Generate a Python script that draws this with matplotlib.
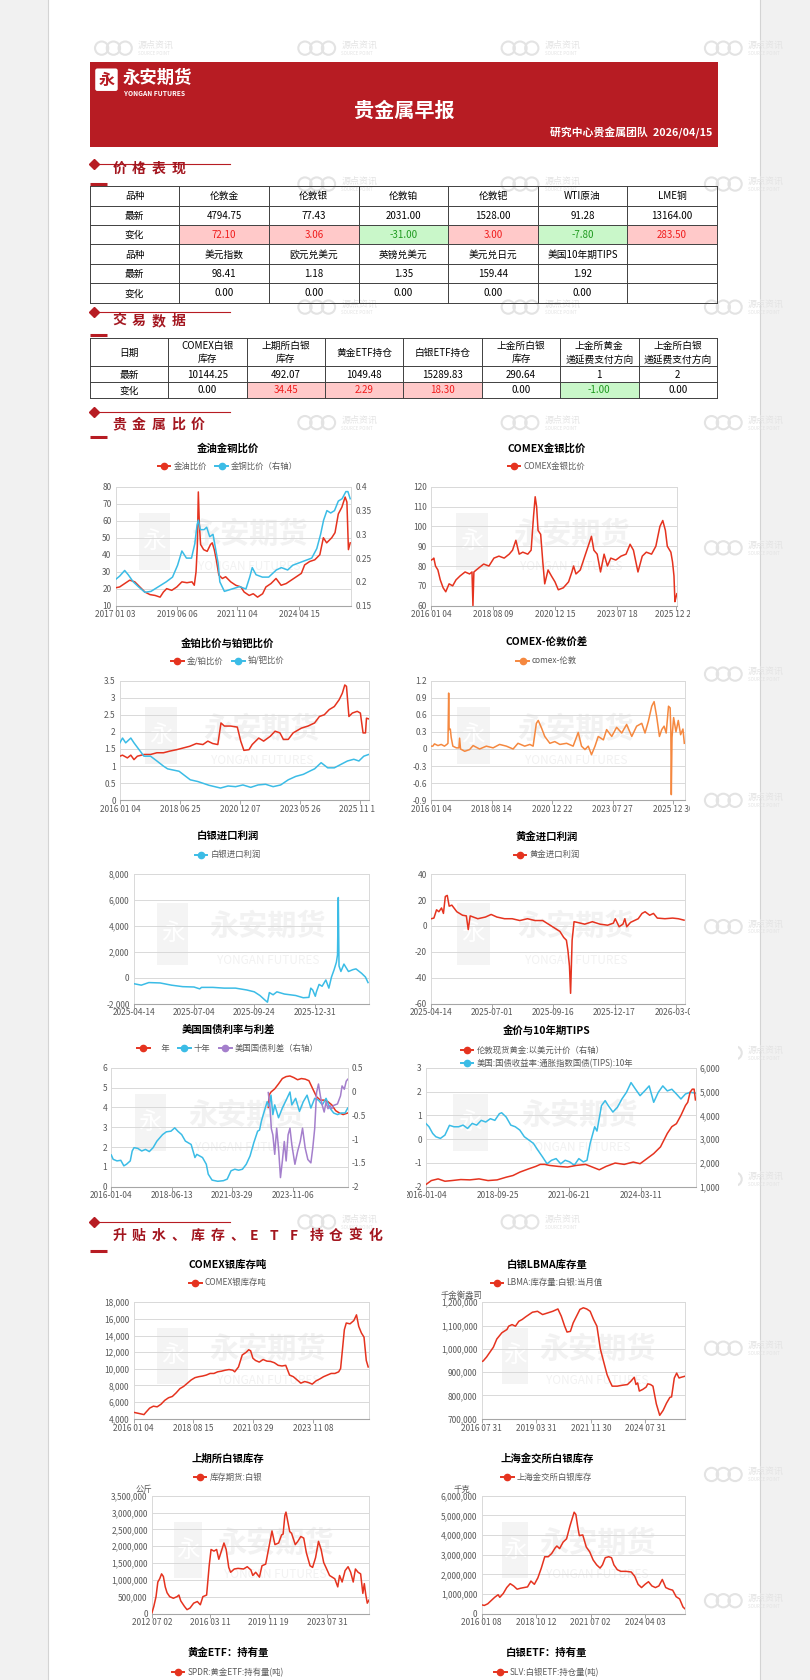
import matplotlib
matplotlib.use("Agg")
import matplotlib.pyplot as plt
from matplotlib.patches import Rectangle, Circle, FancyBboxPatch
from matplotlib.lines import Line2D
from matplotlib.transforms import Bbox, TransformedBbox, blended_transform_factory
import numpy as np

plt.rcParams['font.family'] = ['Noto Sans CJK SC', 'DejaVu Sans']
plt.rcParams['axes.unicode_minus'] = False

# ============================ DATA ============================
report_title = '贵金属早报'
report_sub = '研究中心贵金属团队  2026/04/15'

t1_rows = [
    ['品种', '伦敦金', '伦敦银', '伦敦铂', '伦敦钯', 'WTI原油', 'LME铜'],
    ['最新', '4794.75', '77.43', '2031.00', '1528.00', '91.28', '13164.00'],
    ['变化', '72.10', '3.06', '-31.00', '3.00', '-7.80', '283.50'],
    ['品种', '美元指数', '欧元兑美元', '英镑兑美元', '美元兑日元', '美国10年期TIPS', ''],
    ['最新', '98.41', '1.18', '1.35', '159.44', '1.92', ''],
    ['变化', '0.00', '0.00', '0.00', '0.00', '0.00', ''],
]
t2_rows = [
    ['日期', 'COMEX白银\n库存', '上期所白银\n库存', '黄金ETF持仓', '白银ETF持仓', '上金所白银\n库存',
     '上金所黄金\n递延费支付方向', '上金所白银\n递延费支付方向'],
    ['最新', '10144.25', '492.07', '1049.48', '15289.83', '290.64', '1', '2'],
    ['变化', '0.00', '34.45', '2.29', '18.30', '0.00', '-1.00', '0.00'],
]

# 1 金油金铜比价 (years)
c1_oil_t = [2017.00, 2017.16, 2017.36, 2017.56, 2017.76, 2017.96, 2018.16, 2018.36, 2018.56, 2018.76, 2018.89,
            2019.02, 2019.22, 2019.42, 2019.62, 2019.82, 2020.02, 2020.11, 2020.18, 2020.23, 2020.27, 2020.31,
            2020.36, 2020.48, 2020.62, 2020.75, 2020.82, 2020.90, 2020.98, 2021.08, 2021.22, 2021.35, 2021.55,
            2021.75, 2021.95, 2022.08, 2022.28, 2022.44, 2022.61, 2022.81, 2022.94, 2023.14, 2023.34, 2023.54,
            2023.74, 2023.94, 2024.14, 2024.34, 2024.47, 2024.67, 2024.87, 2025.07, 2025.21, 2025.34, 2025.54,
            2025.67, 2025.80, 2025.94, 2026.07, 2026.14, 2026.20, 2026.27]
c1_oil_v = [20.5, 21, 23, 25, 24, 21, 18, 16.5, 16, 15, 18, 20, 19, 21, 24, 23.5, 24, 22, 30, 45, 77, 58, 46, 43,
            42, 46, 47, 43, 37, 28, 26, 27, 24, 22, 21, 18, 16, 17, 15, 17, 21, 23, 26, 22, 23, 25, 27, 29, 34, 36,
            37, 40, 50, 47, 50, 53, 64, 68, 74, 71, 43, 47]
c1_cu_t = [2017.00, 2017.16, 2017.36, 2017.50, 2017.70, 2017.90, 2018.16, 2018.40, 2018.70, 2019.00, 2019.25,
           2019.45, 2019.62, 2019.80, 2020.00, 2020.13, 2020.22, 2020.27, 2020.35, 2020.50, 2020.60, 2020.72,
           2020.85, 2020.95, 2021.05, 2021.12, 2021.30, 2021.60, 2021.90, 2022.15, 2022.30, 2022.40, 2022.55,
           2022.80, 2023.05, 2023.35, 2023.55, 2023.80, 2024.00, 2024.25, 2024.50, 2024.75, 2024.95, 2025.10,
           2025.22, 2025.35, 2025.50, 2025.65, 2025.80, 2025.95, 2026.10, 2026.18, 2026.27]
c1_cu_v = [0.205, 0.212, 0.224, 0.215, 0.20, 0.19, 0.178, 0.18, 0.19, 0.20, 0.21, 0.235, 0.265, 0.25, 0.25, 0.28,
           0.32, 0.33, 0.31, 0.31, 0.315, 0.295, 0.30, 0.27, 0.24, 0.20, 0.18, 0.185, 0.19, 0.185, 0.21, 0.23,
           0.215, 0.21, 0.21, 0.225, 0.23, 0.225, 0.235, 0.24, 0.245, 0.25, 0.27, 0.30, 0.33, 0.35, 0.345, 0.35,
           0.37, 0.375, 0.39, 0.39, 0.375]
c1_xt = [2017.0, 2019.42, 2021.81, 2024.25]
c1_xl = ['2017 01 03', '2019 06 06', '2021 11 04', '2024 04 15']

# 2 COMEX金银比价
c2_t = [2016.00, 2016.07, 2016.11, 2016.18, 2016.28, 2016.38, 2016.50, 2016.61, 2016.75, 2016.90,
        2017.04, 2017.21, 2017.42, 2017.61, 2017.71, 2017.75, 2017.79, 2017.99, 2018.20, 2018.42, 2018.63,
        2018.84, 2019.06, 2019.27, 2019.41, 2019.55, 2019.69, 2019.84, 2020.05, 2020.19, 2020.29, 2020.36,
        2020.42, 2020.48, 2020.59, 2020.68, 2020.76, 2020.90, 2021.04, 2021.19, 2021.33, 2021.54, 2021.76,
        2021.90, 2021.97, 2022.07, 2022.25, 2022.47, 2022.61, 2022.72, 2022.82, 2022.96, 2023.10, 2023.25,
        2023.39, 2023.53, 2023.74, 2023.96, 2024.17, 2024.34, 2024.48, 2024.67, 2024.85, 2025.02, 2025.24,
        2025.42, 2025.59, 2025.71, 2025.82, 2025.90, 2026.05, 2026.12, 2026.18, 2026.22, 2026.26, 2026.30]
c2_v = [83, 83.5, 84, 80, 78, 73, 69, 67, 71, 70, 73, 75, 77, 76, 77, 60, 77, 79, 81, 80, 84, 85, 84, 86, 88, 93,
        86, 87, 86, 88, 105, 115, 110, 98, 96, 82, 71, 78, 75, 72, 68, 69, 72, 77, 80, 76, 78, 86, 91, 95, 88, 86,
        77, 86, 80, 84, 83, 85, 86, 91, 88, 77, 85, 87, 86, 90, 100, 103, 98, 90, 87, 82, 75, 62, 64, 66]
c2_xt = [2016.0, 2018.6, 2021.19, 2023.79, 2026.25]
c2_xl = ['2016 01 04', '2018 08 09', '2020 12 15', '2023 07 18', '2025 12 24']

# 3 金铂比价与铂钯比价
c3_au_t = [2016.00, 2016.11, 2016.31, 2016.45, 2016.58, 2016.72, 2016.99, 2017.26, 2017.52, 2017.79, 2018.06,
           2018.33, 2018.60, 2018.87, 2019.14, 2019.41, 2019.61, 2019.81, 2020.02, 2020.15, 2020.29, 2020.55,
           2020.82, 2020.96, 2021.09, 2021.30, 2021.43, 2021.70, 2021.90, 2022.17, 2022.37, 2022.57, 2022.71,
           2022.91, 2023.11, 2023.45, 2023.72, 2023.99, 2024.19, 2024.39, 2024.59, 2024.80, 2025.00, 2025.13,
           2025.23, 2025.30, 2025.40, 2025.54, 2025.74, 2025.87, 2025.98, 2026.08, 2026.12, 2026.21]
c3_au_v = [1.29, 1.32, 1.24, 1.32, 1.19, 1.29, 1.34, 1.34, 1.39, 1.39, 1.44, 1.48, 1.53, 1.58, 1.66, 1.63, 1.73,
           1.66, 1.63, 2.26, 2.17, 2.17, 2.14, 1.73, 1.46, 1.48, 1.63, 1.82, 1.73, 1.87, 2.02, 1.97, 1.78, 1.78,
           1.97, 2.11, 2.17, 2.26, 2.45, 2.5, 2.65, 2.74, 2.94, 3.13, 3.37, 3.33, 2.45, 2.55, 2.6, 2.55, 1.97,
           1.97, 2.4, 2.38]
c3_pt_t = [2016.00, 2016.11, 2016.24, 2016.45, 2016.58, 2016.79, 2016.99, 2017.26, 2017.52, 2017.79, 2017.96,
           2018.43, 2018.89, 2019.20, 2019.66, 2020.13, 2020.44, 2020.75, 2021.05, 2021.37, 2021.67, 2021.98,
           2022.29, 2022.60, 2022.91, 2023.22, 2023.53, 2023.84, 2023.99, 2024.26, 2024.53, 2024.80, 2025.07,
           2025.34, 2025.60, 2025.81, 2026.01, 2026.21]
c3_pt_v = [1.68, 1.82, 1.68, 1.82, 1.68, 1.48, 1.29, 1.29, 1.15, 1.0, 0.92, 0.85, 0.6, 0.55, 0.44, 0.36, 0.42,
           0.40, 0.45, 0.38, 0.45, 0.47, 0.40, 0.45, 0.60, 0.70, 0.76, 0.87, 0.92, 1.1, 0.95, 0.95, 1.05, 1.15,
           1.2, 1.15, 1.29, 1.34]
c3_xt = [2016.0, 2018.48, 2020.93, 2023.40, 2025.84]
c3_xl = ['2016 01 04', '2018 06 25', '2020 12 07', '2023 05 26', '2025 11 14']

# 4 COMEX-伦敦价差
c4_t = [2016.00, 2016.07, 2016.14, 2016.29, 2016.43, 2016.57, 2016.67, 2016.72, 2016.75, 2016.77, 2016.82,
        2016.86, 2016.93, 2017.08, 2017.19, 2017.22, 2017.26, 2017.44, 2017.65, 2017.80, 2018.08, 2018.37,
        2018.66, 2018.94, 2019.23, 2019.52, 2019.73, 2020.02, 2020.24, 2020.38, 2020.52, 2020.60, 2020.74,
        2020.88, 2021.10, 2021.31, 2021.53, 2021.82, 2022.10, 2022.32, 2022.46, 2022.61, 2022.75, 2022.89,
        2023.04, 2023.18, 2023.40, 2023.54, 2023.76, 2023.97, 2024.19, 2024.40, 2024.62, 2024.83, 2025.05,
        2025.19, 2025.33, 2025.48, 2025.58, 2025.69, 2025.81, 2025.91, 2026.01, 2026.10, 2026.20, 2026.27,
        2026.30, 2026.32, 2026.35, 2026.42, 2026.52, 2026.62, 2026.72, 2026.82, 2026.88]
c4_v = [0.05, 0.05, 0.09, 0.06, 0.08, 0.05, 0.08, 0.10, 0.98, 0.34, 0.35, 0.20, 0.05, 0.02, 0.02, 0.19, 0.0,
        -0.04, -0.01, 0.06, 0.0, 0.05, 0.02, 0.08, 0.05, 0.0, 0.1, 0.05, 0.08, 0.05, 0.45, 0.5, 0.37, 0.22, 0.1,
        0.13, 0.08, 0.1, 0.05, 0.29, 0.05, -0.01, 0.05, -0.1, 0.05, 0.22, 0.16, 0.34, 0.22, 0.38, 0.28, 0.43,
        0.22, 0.4, 0.45, 0.28, 0.48, 0.75, 0.83, 0.57, 0.22, 0.34, 0.4, 0.28, 0.75, 0.72, 0.3, -0.8, 0.2, 0.55,
        0.3, 0.5, 0.25, 0.35, 0.1]
c4_xt = [2016.0, 2018.6, 2021.2, 2023.8, 2026.4]
c4_xl = ['2016 01 04', '2018 08 14', '2020 12 22', '2023 07 27', '2025 12 30']

# 5 白银进口利润 (position along trading-day axis, tick units)
c5_pos = [0, 0.125, 0.25, 0.4375, 0.625, 0.8125, 1.0, 1.094, 1.125, 1.3125, 1.5, 1.6875, 1.875, 2.0, 2.094,
          2.175, 2.219, 2.25, 2.3125, 2.375, 2.5, 2.594, 2.6875, 2.8125, 2.906, 2.9375, 2.969, 3.0125, 3.031,
          3.075, 3.125, 3.1875, 3.2375, 3.281, 3.325, 3.3625, 3.381, 3.394, 3.406, 3.4375, 3.4875, 3.5625,
          3.6375, 3.6875, 3.781, 3.844, 3.8875]
c5_v = [-457, -571, -371, -400, -571, -686, -714, -857, -743, -743, -800, -800, -943, -1086, -1371, -1714, -1886,
        -1143, -1314, -1086, -1257, -1314, -1371, -1543, -1514, -800, -943, -1429, -1086, -514, -657, -171, -800,
        57, 629, 1200, 1771, 6200, 914, 486, 1057, 486, 629, 686, 343, 57, -371]
c5_xl = ['2025-04-14', '2025-07-04', '2025-09-24', '2025-12-31']

# 6 黄金进口利润
c6_pos = [0, 0.044, 0.0875, 0.125, 0.169, 0.2, 0.231, 0.2625, 0.294, 0.3375, 0.419, 0.5125, 0.575, 0.606,
          0.6375, 0.7625, 0.8875, 0.981, 1.075, 1.2, 1.325, 1.45, 1.575, 1.7, 1.825, 1.919, 2.0125, 2.106,
          2.169, 2.2125, 2.2375, 2.2625, 2.281, 2.306, 2.3375, 2.3875, 2.5125, 2.6375, 2.7625, 2.8875, 2.981,
          3.0125, 3.075, 3.1375, 3.169, 3.2, 3.2625, 3.3875, 3.45, 3.5, 3.575, 3.6375, 3.7, 3.825, 3.95, 4.044,
          4.1375]
c6_v = [5.6, 6.1, 12.5, 11, 13.9, 9.7, 22.8, 23.6, 15.3, 16.1, 11, 8.3, 7.8, -2.8, 7.8, 5.6, 6.9, 8.9, 6.9, 5.6,
        5.6, 4.2, 5.6, 4.2, 4.2, 1.4, -1.4, -4.2, -8.9, -11, -19, -31, -52, -11, 3.3, 2.8, 1.4, 3.3, 1.4, 0.6,
        2.2, 5.6, -0.6, 1.4, 5.6, -0.6, 2.8, 5.6, 9.7, 11, 8.3, 9.7, 6.1, 5.6, 6.1, 5.6, 4.5]
c6_xl = ['2025-04-14', '2025-07-01', '2025-09-16', '2025-12-17', '2026-03-04']

# 7 美国国债利率与利差
c7_10y_pos = [0, 0.031, 0.094, 0.157, 0.208, 0.252, 0.314, 0.346, 0.377, 0.44, 0.503, 0.566, 0.629, 0.692,
              0.755, 0.849, 0.912, 0.987, 1.05, 1.101, 1.164, 1.226, 1.321, 1.384, 1.415, 1.509, 1.572, 1.604,
              1.667, 1.761, 1.855, 1.918, 1.981, 2.044, 2.107, 2.17, 2.233, 2.296, 2.358, 2.421, 2.453, 2.484,
              2.547, 2.579, 2.61, 2.642, 2.673, 2.704, 2.767, 2.83, 2.893, 2.956, 2.987, 3.05, 3.113, 3.176,
              3.239, 3.302, 3.365, 3.428, 3.491, 3.553, 3.616, 3.679, 3.742, 3.805, 3.868, 3.912]
c7_10y_v = [1.6, 1.38, 1.3, 1.33, 1.05, 1.13, 1.3, 1.8, 1.97, 1.93, 1.8, 1.88, 1.77, 1.97, 2.3, 2.63, 2.77, 2.8,
            2.97, 2.8, 2.63, 2.3, 2.13, 1.47, 1.63, 1.47, 1.13, 0.63, 0.33, 0.27, 0.3, 0.38, 0.8, 0.88, 0.83,
            0.88, 1.13, 1.55, 2.22, 2.8, 2.86, 3.32, 3.97, 4.29, 4.05, 4.62, 3.64, 4.13, 3.48, 3.97, 4.37, 4.78,
            4.13, 4.46, 3.8, 4.29, 4.62, 3.97, 4.46, 4.37, 4.13, 4.46, 3.97, 3.72, 3.64, 3.72, 3.72, 3.97]
c7_2y_pos = [2.597, 2.61, 2.642, 2.704, 2.767, 2.83, 2.893, 2.956, 3.019, 3.082, 3.145, 3.208, 3.27, 3.333, 3.396,
             3.459, 3.522, 3.585, 3.648, 3.711, 3.774, 3.836, 3.912]
c7_2y_v = [4.0, 4.62, 4.78, 4.94, 5.19, 5.46, 5.56, 5.59, 5.51, 5.4, 5.46, 5.43, 5.35, 4.94, 4.54, 4.37, 4.37,
           4.29, 4.13, 3.84, 3.72, 3.64, 3.72]
c7_sp_pos = [2.597, 2.623, 2.648, 2.673, 2.704, 2.736, 2.767, 2.799, 2.83, 2.862, 2.893, 2.925, 2.956, 2.987,
             3.038, 3.082, 3.126, 3.164, 3.208, 3.252, 3.302, 3.333, 3.365, 3.396, 3.428, 3.459, 3.491, 3.522,
             3.553, 3.585, 3.616, 3.648, 3.679, 3.742, 3.792, 3.818, 3.855, 3.887, 3.912]
c7_sp_v = [-0.02, -0.29, -0.78, -0.91, -1.32, -0.77, -1.19, -1.81, -1.46, -1.05, -1.46, -0.91, -0.77, -1.12,
           -1.53, -1.26, -1.05, -0.77, -1.19, -1.43, -1.5, -1.19, -0.78, -0.02, 0.16, -0.09, -0.29, -0.43, -0.22,
           -0.36, -0.29, -0.36, -0.29, -0.26, -0.09, 0.12, 0.05, 0.22, 0.26]
c7_xl = ['2016-01-04', '2018-06-13', '2021-03-29', '2023-11-06']

# 8 金价与10年期TIPS
c8_tips_pos = [0, 0.044, 0.095, 0.139, 0.203, 0.266, 0.329, 0.392, 0.456, 0.519, 0.582, 0.646, 0.709, 0.772,
               0.835, 0.899, 0.962, 1.025, 1.057, 1.12, 1.184, 1.247, 1.31, 1.373, 1.437, 1.5, 1.563, 1.627,
               1.69, 1.753, 1.816, 1.88, 1.943, 2.006, 2.07, 2.133, 2.196, 2.247, 2.291, 2.354, 2.386, 2.449,
               2.5, 2.544, 2.608, 2.671, 2.734, 2.797, 2.861, 2.924, 2.987, 3.051, 3.114, 3.177, 3.241, 3.304,
               3.367, 3.43, 3.494, 3.557, 3.62, 3.684, 3.759]
c8_tips_v = [0.66, 0.52, 0.24, 0.1, 0.03, 0.17, 0.58, 0.52, 0.52, 0.59, 0.45, 0.66, 0.59, 0.79, 0.72, 0.86,
             0.79, 1.07, 1.11, 0.93, 0.59, 0.52, 0.38, 0.1, -0.04, -0.18, -0.47, -0.75, -1.04, -0.89, -0.82,
             -1.04, -0.89, -0.96, -1.1, -0.82, -0.96, -0.89, -0.18, 0.52, 0.34, 1.41, 1.62, 1.41, 1.14, 1.34,
             1.69, 1.97, 2.38, 2.1, 1.83, 2.03, 2.24, 1.55, 1.97, 2.24, 2.03, 2.1, 1.9, 1.69, 1.9, 1.97, 1.94]
c8_gold_pos = [0, 0.076, 0.171, 0.266, 0.361, 0.487, 0.614, 0.741, 0.867, 0.994, 1.12, 1.215, 1.31, 1.437,
               1.532, 1.595, 1.658, 1.722, 1.848, 1.975, 2.101, 2.228, 2.323, 2.418, 2.513, 2.639, 2.766, 2.892,
               2.987, 3.082, 3.177, 3.272, 3.367, 3.43, 3.494, 3.557, 3.62, 3.652, 3.684, 3.715, 3.741, 3.759]
c8_gold_v = [1085, 1255, 1326, 1227, 1255, 1298, 1284, 1326, 1255, 1284, 1397, 1468, 1610, 1752, 1851, 1936,
             1936, 1894, 1851, 1823, 1894, 1936, 1823, 1709, 1851, 1993, 1936, 2035, 1965, 2177, 2390, 2674,
             3241, 3525, 3650, 4000, 4414, 4552, 4966, 5103, 5103, 4650]
c8_xl = ['2016-01-04', '2018-09-25', '2021-06-21', '2024-03-11']

# 9 COMEX银库存吨
c9_pos = [0, 0.076, 0.171, 0.203, 0.266, 0.329, 0.392, 0.456, 0.519, 0.582, 0.646, 0.709, 0.772, 0.835, 0.899,
          0.962, 1.025, 1.089, 1.152, 1.215, 1.278, 1.342, 1.405, 1.468, 1.532, 1.595, 1.658, 1.69, 1.753, 1.816,
          1.88, 1.924, 1.956, 1.994, 2.038, 2.101, 2.165, 2.228, 2.291, 2.354, 2.418, 2.481, 2.544, 2.608, 2.671,
          2.734, 2.797, 2.861, 2.924, 2.987, 3.051, 3.114, 3.177, 3.241, 3.304, 3.367, 3.43, 3.462, 3.494, 3.525,
          3.557, 3.62, 3.684, 3.728, 3.766, 3.81, 3.854, 3.892, 3.924]
c9_v = [4778, 4661, 4506, 4778, 5284, 5518, 5440, 5751, 6218, 6529, 6685, 7113, 7619, 7891, 8280, 8669, 8942,
        9058, 9136, 9253, 9447, 9447, 9642, 9720, 9837, 9914, 9837, 9642, 10226, 11665, 11977, 12288, 12171,
        11276, 11004, 10809, 11120, 10926, 10887, 10731, 10420, 10342, 10420, 9253, 9058, 8669, 8280, 8475,
        8358, 8163, 8553, 8786, 9058, 9253, 9447, 9447, 9642, 10031, 12366, 14700, 15500, 15400, 15800, 16480,
        15089, 14311, 13800, 11004, 10226]
c9_xl = ['2016 01 04', '2018 08 15', '2021 03 29', '2023 11 08']

# 10 白银LBMA库存量
c10_pos = [0, 0.031, 0.093, 0.155, 0.217, 0.28, 0.373, 0.466, 0.497, 0.559, 0.621, 0.683, 0.745, 0.807, 0.932,
           1.025, 1.118, 1.211, 1.304, 1.398, 1.46, 1.522, 1.565, 1.627, 1.677, 1.739, 1.801, 1.863, 1.925,
           1.988, 2.05, 2.112, 2.174, 2.236, 2.298, 2.348, 2.391, 2.484, 2.578, 2.671, 2.733, 2.795, 2.826,
           2.857, 2.888, 2.95, 3.012, 3.043, 3.093, 3.137, 3.199, 3.261, 3.323, 3.385, 3.447, 3.478, 3.528,
           3.571, 3.615, 3.652, 3.714]
c10_v = [945000, 948000, 965000, 986000, 1007000, 1042000, 1069000, 1083000, 1097000, 1104000, 1097000, 1118000,
         1126000, 1137000, 1157000, 1161000, 1147000, 1154000, 1161000, 1171000, 1140000, 1097000, 1072000,
         1075000, 1111000, 1140000, 1169000, 1176000, 1171000, 1161000, 1126000, 1097000, 1000000, 944000,
         889000, 861000, 840000, 840000, 844000, 847000, 861000, 878000, 847000, 854000, 819000, 826000, 836000,
         850000, 847000, 840000, 764000, 715000, 736000, 767000, 792000, 794000, 875000, 896000, 875000, 878000,
         882000]
c10_xl = ['2016 07 31', '2019 03 31', '2021 11 30', '2024 07 31']

# 11 上期所白银库存
c11_pos = [0, 0.032, 0.07, 0.101, 0.133, 0.165, 0.196, 0.228, 0.259, 0.304, 0.367, 0.43, 0.462, 0.494, 0.557,
           0.601, 0.652, 0.715, 0.778, 0.829, 0.873, 0.937, 0.981, 1.013, 1.063, 1.108, 1.146, 1.19, 1.234,
           1.272, 1.316, 1.348, 1.411, 1.475, 1.57, 1.633, 1.696, 1.728, 1.778, 1.842, 1.886, 1.949, 2.013,
           2.057, 2.108, 2.171, 2.222, 2.247, 2.278, 2.297, 2.329, 2.361, 2.392, 2.456, 2.5, 2.551, 2.601, 2.646,
           2.709, 2.753, 2.804, 2.854, 2.899, 2.943, 2.994, 3.044, 3.089, 3.133, 3.184, 3.215, 3.259, 3.31,
           3.361, 3.405, 3.449, 3.487, 3.532, 3.576, 3.614, 3.639, 3.665, 3.69, 3.722]
c11_v = [19000, 213000, 503000, 938000, 1035000, 1180000, 1102000, 793000, 619000, 503000, 455000, 503000,
         551000, 377000, 213000, 116000, 164000, 309000, 358000, 261000, 503000, 551000, 1422000, 1905000,
         1857000, 1905000, 1615000, 1857000, 2099000, 1905000, 1373000, 1228000, 1325000, 1344000, 1325000,
         1393000, 1296000, 1132000, 1228000, 1083000, 1422000, 1470000, 2050000, 2456000, 2050000, 2099000,
         2340000, 2360000, 2921000, 3017000, 2727000, 2437000, 2389000, 2050000, 2147000, 2292000, 2244000,
         1809000, 1422000, 1373000, 1664000, 2147000, 1905000, 1518000, 1325000, 1132000, 1083000, 1035000,
         793000, 1132000, 938000, 1277000, 1393000, 1228000, 938000, 1325000, 1228000, 1180000, 600000, 890000,
         551000, 309000, 406000]
c11_xl = ['2012 07 02', '2016 03 11', '2019 11 19', '2023 07 31']

# 12 上海金交所白银库存
c12_pos = [0, 0.051, 0.114, 0.177, 0.241, 0.304, 0.335, 0.399, 0.462, 0.525, 0.589, 0.652, 0.715, 0.778, 0.842,
           0.905, 0.968, 1.032, 1.095, 1.158, 1.222, 1.285, 1.348, 1.38, 1.43, 1.494, 1.557, 1.62, 1.665, 1.696,
           1.728, 1.759, 1.791, 1.854, 1.918, 1.981, 2.044, 2.108, 2.171, 2.215, 2.266, 2.329, 2.38, 2.424,
           2.487, 2.551, 2.646, 2.741, 2.804, 2.867, 2.93, 2.994, 3.057, 3.12, 3.184, 3.247, 3.31, 3.373, 3.437,
           3.5, 3.563, 3.627, 3.69, 3.722]
c12_v = [447000, 414000, 497000, 662000, 828000, 960000, 828000, 1026000, 1325000, 1523000, 1407000, 1242000,
         1291000, 1325000, 1358000, 1656000, 1490000, 1821000, 2318000, 2897000, 2897000, 3063000, 3344000,
         3444000, 3311000, 3642000, 3808000, 4470000, 4884000, 5166000, 5050000, 4470000, 3974000, 4007000,
         3394000, 3146000, 2732000, 2483000, 2318000, 2483000, 2848000, 2897000, 2848000, 2483000, 2235000,
         2152000, 2152000, 2119000, 1904000, 1490000, 1325000, 1490000, 1623000, 1407000, 1325000, 1407000,
         1738000, 1325000, 1242000, 1192000, 861000, 745000, 331000, 248000]
c12_xl = ['2016 01 08', '2018 10 12', '2021 07 02', '2024 04 03']

# ============================ STYLE / LAYOUT ============================
W, H, K = 810, 1680, 1.07
PW, PH = W / K, H / K
RED = '#e5331f'; BLUE = '#3bbce6'; ORANGE = '#f5883f'; PURPLE = '#a47fcc'
BAND = '#b71c23'; DARKRED = '#a3161f'
TXT = '#595959'; GRID = '#d9d9d9'; WMC = '#e3e3e3'

fig = plt.figure(figsize=(W / 100, H / 100), dpi=100)
fig.patch.set_facecolor('#f1f1f1')
bg = fig.add_axes([0, 0, 1, 1])
bg.set_xlim(0, PW); bg.set_ylim(PH, 0); bg.axis('off')
bg.add_patch(Rectangle((45, -5), 665, PH + 10, fc='white', ec='#d4d4d4', lw=0.8, zorder=0))


def source_wm(x, y):
    for dx in (-15, -4, 7):
        bg.add_patch(Circle((x + dx, y), 6.2, fill=False, ec=WMC, lw=1.5, zorder=1))
    bg.text(x + 19, y - 2.5, '源点资讯', fontsize=6.5, color=WMC, va='center', ha='left', zorder=1)
    bg.text(x + 19, y + 5, 'SOURCE POINT', fontsize=3.2, color=WMC, va='center', ha='left', zorder=1)


for yy, cols in ((45, (110, 300, 490, 680)), (172, (300, 490, 680)), (287, (300, 490, 680)),
                 (395, (300, 490, 680)), (1142, (300, 490))):
    for xx in cols:
        source_wm(xx, yy)
for yy in (512, 630, 748, 866, 984, 1102, 1260, 1378, 1496):
    source_wm(680, yy)

# header band
bg.add_patch(Rectangle((84, 58), 587, 79, fc=BAND, ec='none', zorder=2))
bg.add_patch(FancyBboxPatch((89, 64), 21, 21, boxstyle='round,pad=0,rounding_size=2', fc='white', ec='none', zorder=3))
bg.text(99.5, 74.5, '永', color=BAND, fontsize=11.5, fontweight='bold', ha='center', va='center', zorder=4)
bg.text(115, 72.5, '永安期货', color='white', fontsize=12.5, fontweight='bold', ha='left', va='center', zorder=4)
bg.text(115.5, 87.5, 'YONGAN FUTURES', color='white', fontsize=4.8, fontweight='bold', ha='left', va='center', zorder=4)
bg.text(378, 103, report_title, color='white', fontsize=14.5, fontweight='bold', ha='center', va='center', zorder=4)
bg.text(666, 124, report_sub, color='white', fontsize=7.8, fontweight='bold', ha='right', va='center', zorder=4)


def section(yline, ytext, ybar, title):
    bg.plot([87, 215], [yline, yline], color=BAND, lw=0.8, zorder=3)
    bg.plot([88], [yline], marker='D', color=BAND, markersize=5.5, zorder=4)
    for i, ch in enumerate(title):
        bg.text(105 + 18.4 * i, ytext, ch, color=DARKRED, fontsize=10, fontweight='bold', ha='left', va='center', zorder=4)
    bg.plot([84, 100], [ybar, ybar], color=BAND, lw=2.2, solid_capstyle='butt', zorder=3)


section(153, 158, 171.5, '价格表现')
section(292, 300, 313.5, '交易数据')
section(385, 397, 408, '贵金属比价')
section(1142, 1155, 1169, '升贴水、库存、ETF持仓变化')


def draw_table(rows, x0, x1, ys, fs=7):
    ncol = len(rows[0])
    xs = np.linspace(x0, x1, ncol + 1)
    for r, row in enumerate(rows):
        for c, s in enumerate(row):
            color = 'black'
            if row[0] == '变化' and c > 0 and s:
                val = float(s)
                if val > 0:
                    bg.add_patch(Rectangle((xs[c], ys[r]), xs[c + 1] - xs[c], ys[r + 1] - ys[r], fc='#ffc9c9', ec='none', zorder=2))
                    color = '#f01c1c'
                elif val < 0:
                    bg.add_patch(Rectangle((xs[c], ys[r]), xs[c + 1] - xs[c], ys[r + 1] - ys[r], fc='#c9f7c9', ec='none', zorder=2))
                    color = '#1f9a1f'
            bg.text((xs[c] + xs[c + 1]) / 2, (ys[r] + ys[r + 1]) / 2 + 0.3, s, fontsize=fs, color=color,
                    ha='center', va='center', zorder=4, linespacing=1.45)
    for y in ys:
        bg.plot([x0, x1], [y, y], color='#404040', lw=0.7, zorder=3)
    for x in xs:
        bg.plot([x, x], [ys[0], ys[-1]], color='#404040', lw=0.7, zorder=3)


draw_table(t1_rows, 84, 670, list(np.linspace(174, 283, 7)))
draw_table(t2_rows, 84, 670, [316, 342.5, 357.3, 372])

# white chart image backgrounds (cover watermarks)
for (y0, y1) in ((410, 585), (590, 765), (772, 950), (955, 1125), (1172, 1340), (1352, 1522), (1535, 1575)):
    bg.add_patch(Rectangle((84, y0), 266, y1 - y0, fc='white', ec='none', zorder=6))
    bg.add_patch(Rectangle((385, y0), 260 if y0 != 955 else 305, y1 - y0, fc='white', ec='none', zorder=6))


def chart(box, clip, xlim, ylim, yt, yl, xt, xl, series, title, tx, ty, ly,
          right=None, ncol=None, unit=None):
    x0, x1, ytop, ybot = box
    ax = fig.add_axes([x0 * K / W, 1 - ybot * K / H, (x1 - x0) * K / W, (ybot - ytop) * K / H])
    ax.set_facecolor('white')
    ax.set_xlim(*xlim); ax.set_ylim(*ylim)
    ax.set_yticks(yt); ax.set_yticklabels(yl)
    ax.tick_params(axis='y', length=0, pad=3, labelsize=6, labelcolor=TXT)
    ax.set_xticks([t for t in xt if xlim[0] <= t <= xlim[1]])
    ax.set_xticklabels([])
    ax.tick_params(axis='x', length=3, width=0.7, color='#a6a6a6', direction='out')
    ax.grid(axis='y', color=GRID, lw=0.7)
    ax.set_axisbelow(True)
    for s in ('left', 'right', 'top'):
        ax.spines[s].set_color(GRID); ax.spines[s].set_linewidth(0.7)
    ax.spines['bottom'].set_color('#a6a6a6'); ax.spines['bottom'].set_linewidth(0.8)
    # faint company watermark
    ax.add_patch(Rectangle((0.1, 0.3), 0.13, 0.48, transform=ax.transAxes, fc='#f4f4f4', ec='none', zorder=0.2))
    ax.text(0.165, 0.54, '永', transform=ax.transAxes, fontsize=17, color='white', ha='center', va='center', zorder=0.3)
    ax.text(0.57, 0.6, '永安期货', transform=ax.transAxes, fontsize=21, color='#f2f2f2', fontweight='bold',
            ha='center', va='center', zorder=0.3)
    ax.text(0.57, 0.33, 'YONGAN FUTURES', transform=ax.transAxes, fontsize=8.5, color='#f2f2f2',
            ha='center', va='center', zorder=0.3)
    ax2 = None
    if right is not None:
        ax2 = ax.twinx()
        ax2.set_ylim(*right[0]); ax2.set_yticks(right[1]); ax2.set_yticklabels(right[2])
        ax2.tick_params(axis='y', length=0, pad=3, labelsize=6, labelcolor=TXT)
        for s in ax2.spines.values():
            s.set_visible(False)
    handles = []
    for xs_, ys_, col, side, lab in series:
        tgt = ax2 if side == 'r' else ax
        pts = list(zip(xs_, ys_))
        tgt.plot([p[0] for p in pts], [p[1] for p in pts], color=col, lw=1.1, zorder=3, solid_joinstyle='round')
        handles.append(Line2D([0], [0], color=col, lw=1.4, marker='o', markersize=4.5, label=lab))
    clipbox = TransformedBbox(Bbox.from_extents(clip[0] * K / W, 0, clip[1] * K / W, 1), fig.transFigure)
    tr = blended_transform_factory(ax.transData, fig.transFigure)
    for t, lab in zip(xt, xl):
        txt = fig.text(t, 1 - (ybot + 4.5) * K / H, lab, transform=tr, ha='center', va='top', fontsize=6, color=TXT)
        txt.set_clip_on(True); txt.set_clip_box(clipbox)
    fig.text(tx * K / W, 1 - ty * K / H, title, ha='center', va='center', fontsize=7.5, fontweight='bold', color='black')
    ax.legend(handles=handles, loc='center', bbox_to_anchor=(tx * K / W, 1 - ly * K / H),
              bbox_transform=fig.transFigure, ncol=ncol or len(handles), frameon=False, fontsize=6,
              handlelength=1.5, handletextpad=0.4, columnspacing=1.0, borderaxespad=0, borderpad=0,
              labelcolor=TXT, labelspacing=0.5)
    if unit is not None:
        fig.text(unit[0] * K / W, 1 - unit[1] * K / H, unit[2], ha='left', va='center', fontsize=6, color=TXT)
    return ax


LX, RX = 213, 511

chart((108, 328, 455, 566), (84, 352), (2017.0, 2026.3), (10, 80), [10, 20, 30, 40, 50, 60, 70, 80],
      ['10', '20', '30', '40', '50', '60', '70', '80'], c1_xt, c1_xl,
      [(c1_oil_t, c1_oil_v, RED, 'l', '金油比价'), (c1_cu_t, c1_cu_v, BLUE, 'r', '金铜比价（右轴）')],
      '金油金铜比价', LX, 419, 436,
      right=((0.15, 0.4), [0.15, 0.2, 0.25, 0.3, 0.35, 0.4], ['0.15', '0.2', '0.25', '0.3', '0.35', '0.4']))

chart((403, 633, 455, 566), (380, 645), (2016.0, 2026.32), (60, 120), [60, 70, 80, 90, 100, 110, 120],
      ['60', '70', '80', '90', '100', '110', '120'], c2_xt, c2_xl,
      [(c2_t, c2_v, RED, 'l', 'COMEX金银比价')], 'COMEX金银比价', RX, 419, 436)

chart((112, 345, 636, 748), (84, 350), (2016.0, 2026.23), (0, 3.5), [0, 0.5, 1, 1.5, 2, 2.5, 3, 3.5],
      ['0', '0.5', '1', '1.5', '2', '2.5', '3', '3.5'], c3_xt, c3_xl,
      [(c3_au_t, c3_au_v, RED, 'l', '金/铂比价'), (c3_pt_t, c3_pt_v, BLUE, 'l', '铂/钯比价')],
      '金铂比价与铂钯比价', LX, 601, 618)

chart((403, 640, 636, 748), (380, 645), (2016.0, 2026.9), (-0.9, 1.2),
      [-0.9, -0.6, -0.3, 0, 0.3, 0.6, 0.9, 1.2], ['-0.9', '-0.6', '-0.3', '0', '0.3', '0.6', '0.9', '1.2'],
      c4_xt, c4_xl, [(c4_t, c4_v, ORANGE, 'l', 'comex-伦敦')], 'COMEX-伦敦价差', RX, 601, 618)

chart((125, 345, 817, 938), (84, 350), (0, 3.906), (-2000, 8000), [-2000, 0, 2000, 4000, 6000, 8000],
      ['-2,000', '0', '2,000', '4,000', '6,000', '8,000'], [0, 1, 2, 3], c5_xl,
      [(c5_pos, c5_v, BLUE, 'l', '白银进口利润')], '白银进口利润', LX, 782, 799)

chart((403, 640, 817, 938), (380, 645), (0, 4.15), (-60, 40), [-60, -40, -20, 0, 20, 40],
      ['-60', '-40', '-20', '0', '20', '40'], [0, 1, 2, 3, 4], c6_xl,
      [(c6_pos, c6_v, RED, 'l', '黄金进口利润')], '黄金进口利润', RX, 782, 799)

chart((104, 325, 998, 1109), (84, 352), (0, 3.912), (0, 6), [0, 1, 2, 3, 4, 5, 6],
      ['0', '1', '2', '3', '4', '5', '6'], [0, 1, 2, 3], c7_xl,
      [(c7_2y_pos, c7_2y_v, RED, 'l', '\u3000年'), (c7_10y_pos, c7_10y_v, BLUE, 'l', '十年'),
       (c7_sp_pos, c7_sp_v, PURPLE, 'r', '美国国债利差（右轴）')],
      '美国国债利率与利差', LX, 963, 980,
      right=((-2, 0.5), [-2, -1.5, -1, -0.5, 0, 0.5], ['-2', '-1.5', '-1', '-0.5', '0', '0.5']))

chart((398, 650, 998, 1109), (380, 690), (0, 3.76), (-2, 3), [-2, -1, 0, 1, 2, 3],
      ['-2', '-1', '0', '1', '2', '3'], [0, 1, 2, 3], c8_xl,
      [(c8_gold_pos, c8_gold_v, RED, 'r', '伦敦现货黄金:以美元计价（右轴）'),
       (c8_tips_pos, c8_tips_v, BLUE, 'l', '美国:国债收益率:通胀指数国债(TIPS):10年')],
      '金价与10年期TIPS', RX, 963, 988, ncol=1,
      right=((1000, 6000), [1000, 2000, 3000, 4000, 5000, 6000],
             ['1,000', '2,000', '3,000', '4,000', '5,000', '6,000']))

chart((125, 345, 1217, 1326), (84, 350), (0, 3.94), (4000, 18000),
      [4000, 6000, 8000, 10000, 12000, 14000, 16000, 18000],
      ['4,000', '6,000', '8,000', '10,000', '12,000', '14,000', '16,000', '18,000'], [0, 1, 2, 3], c9_xl,
      [(c9_pos, c9_v, RED, 'l', 'COMEX银库存吨')], 'COMEX银库存吨', LX, 1182, 1199)

chart((450, 640, 1217, 1326), (380, 645), (0, 3.72), (700000, 1200000),
      [700000, 800000, 900000, 1000000, 1100000, 1200000],
      ['700,000', '800,000', '900,000', '1,000,000', '1,100,000', '1,200,000'], [0, 1, 2, 3], c10_xl,
      [(c10_pos, c10_v, RED, 'l', 'LBMA:库存量:白银:当月值')], '白银LBMA库存量', RX, 1182, 1199,
      unit=(412, 1211, '千金衡盎司'))

chart((142, 345, 1398, 1508), (84, 350), (0, 3.722), (0, 3500000),
      [0, 500000, 1000000, 1500000, 2000000, 2500000, 3000000, 3500000],
      ['0', '500,000', '1,000,000', '1,500,000', '2,000,000', '2,500,000', '3,000,000', '3,500,000'],
      [0, 1, 2, 3], c11_xl, [(c11_pos, c11_v, RED, 'l', '库存期货:白银')], '上期所白银库存', LX, 1363, 1381,
      unit=(127, 1392, '公斤'))

chart((450, 640, 1398, 1508), (380, 645), (0, 3.722), (0, 6000000),
      [0, 1000000, 2000000, 3000000, 4000000, 5000000, 6000000],
      ['0', '1,000,000', '2,000,000', '3,000,000', '4,000,000', '5,000,000', '6,000,000'],
      [0, 1, 2, 3], c12_xl, [(c12_pos, c12_v, RED, 'l', '上海金交所白银库存')], '上海金交所白银库存', RX,
      1363, 1381, unit=(424, 1392, '千克'))

# bottom (cut-off) charts: titles and legends only
for tx, ttl, lab in ((LX, '黄金ETF：持有量', 'SPDR:黄金ETF:持有量(吨)'), (RX, '白银ETF：持有量', 'SLV:白银ETF:持仓量(吨)')):
    fig.text(tx * K / W, 1 - 1545 * K / H, ttl, ha='center', va='center', fontsize=7.5, fontweight='bold')
    fig.legend(handles=[Line2D([0], [0], color=RED, lw=1.4, marker='o', markersize=4.5, label=lab)],
               loc='center', bbox_to_anchor=(tx * K / W, 1 - 1563 * K / H), bbox_transform=fig.transFigure,
               frameon=False, fontsize=6, handlelength=1.5, handletextpad=0.4, borderaxespad=0, borderpad=0,
               labelcolor=TXT)

fig.savefig('out.png', dpi=100, facecolor=fig.get_facecolor())
